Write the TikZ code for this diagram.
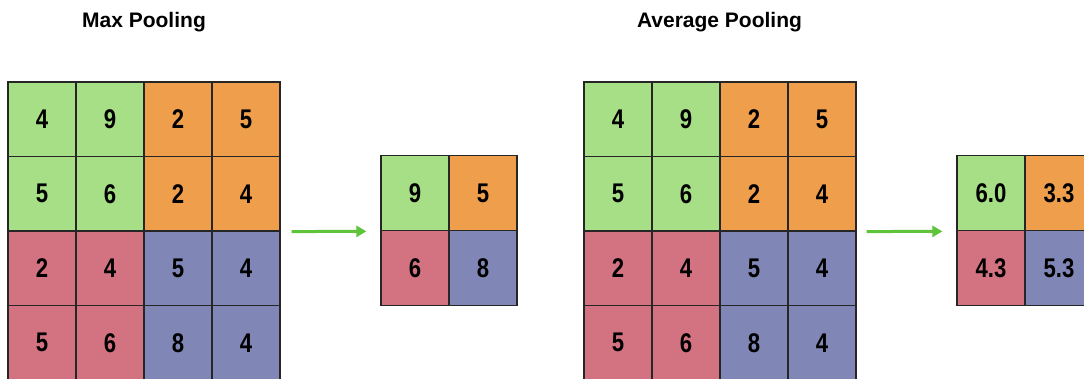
\documentclass[tikz,border=0pt]{standalone}
\usepackage{fontspec}
\setmainfont{Liberation Sans}
\newfontfamily\numfam{Liberation Sans}[FakeStretch=0.82]
\usetikzlibrary{arrows.meta,calc}
\definecolor{cgreen}{RGB}{166,223,133}
\definecolor{corange}{RGB}{239,159,75}
\definecolor{cred}{RGB}{211,115,130}
\definecolor{cblue}{RGB}{128,135,183}
\definecolor{carrow}{RGB}{94,196,58}
\tikzset{
  cell/.style={draw=black!85, line width=1.2pt, minimum width=68pt, minimum height=74.5pt,
    inner sep=0pt, anchor=center, font=\numfam\bfseries\fontsize{27}{27}\selectfont},
  title/.style={font=\bfseries\fontsize{21}{21}\selectfont, anchor=center},
  flow/.style={draw=carrow, line width=3pt, -{Triangle[length=10pt,width=11pt]}}
}
\begin{document}
\begin{tikzpicture}[x=1pt,y=-1pt]
\useasboundingbox (0,0) rectangle (1084,378);
\clip (0,0) rectangle (1084,378);
\node[title] (t1) at (144,22) {Max Pooling};
\node[title] (t2) at (719.5,22) {Average Pooling};
% input grids
\foreach \g/\xo in {L/8, R/584} {
  \foreach \r/\vals in {1/{4,9,2,5}, 2/{5,6,2,4}, 3/{2,4,5,4}, 4/{5,6,8,4}} {
    \foreach \v [count=\c] in \vals {
      \pgfmathsetmacro{\cx}{\xo+34+68*(\c-1)}
      \pgfmathsetmacro{\cy}{82+37.25+74.5*(\r-1)}
      \ifnum\r<3
        \ifnum\c<3 \def\fc{cgreen}\else\def\fc{corange}\fi
      \else
        \ifnum\c<3 \def\fc{cred}\else\def\fc{cblue}\fi
      \fi
      \node[cell, fill=\fc] (\g-\r-\c) at (\cx,\cy) {\v};
    }
  }
}
% outputs
\node[cell, fill=cgreen, minimum height=75pt] (O-1-1) at (415,193.2) {9};
\node[cell, fill=corange, minimum height=75pt] (O-1-2) at (483,193.2) {5};
\node[cell, fill=cred, minimum height=75pt] (O-2-1) at (415,268.2) {6};
\node[cell, fill=cblue, minimum height=75pt] (O-2-2) at (483,268.2) {8};
\node[cell, fill=cgreen, minimum height=75pt] (P-1-1) at (991,193.2) {6.0};
\node[cell, fill=corange, minimum height=75pt] (P-1-2) at (1059,193.2) {3.3};
\node[cell, fill=cred, minimum height=75pt] (P-2-1) at (991,268.2) {4.3};
\node[cell, fill=cblue, minimum height=75pt] (P-2-2) at (1059,268.2) {5.3};
% arrows
\draw[flow, shorten <=11pt, shorten >=14pt] (L-2-4.south east) -- (O-1-1.south west);
\draw[flow, shorten <=10pt, shorten >=14pt] (R-2-4.south east) -- (P-1-1.south west);
\end{tikzpicture}
\end{document}
